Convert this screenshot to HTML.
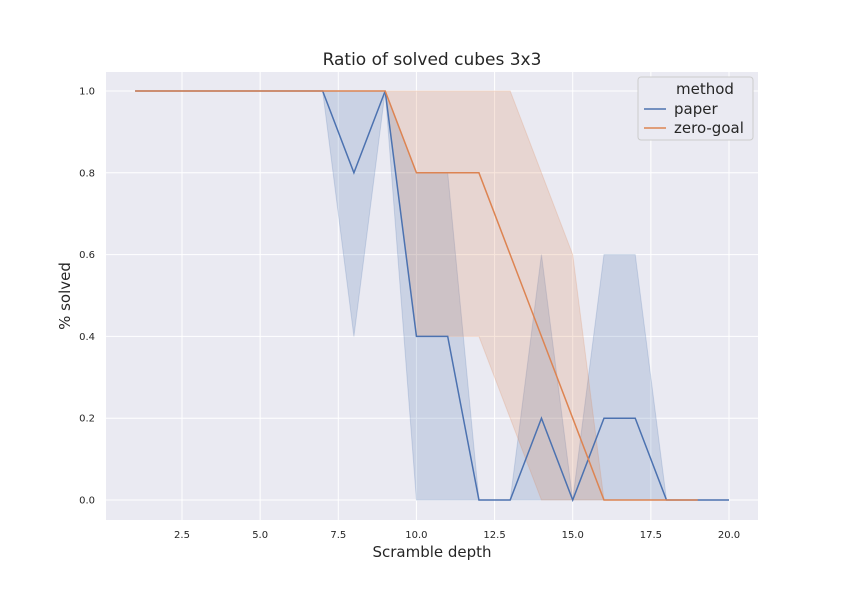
<!DOCTYPE html>
<html><head><meta charset="utf-8"><style>
body{margin:0;background:#fff;}
svg text{font-family:"DejaVu Sans","Liberation Sans",sans-serif;}
</style></head><body>
<svg id="chart" width="842" height="595" xmlns="http://www.w3.org/2000/svg"></svg>
<script>
const xs=[1,2,3,4,5,6,7,8,9,10,11,12,13,14,15,16,17,18,19,20];
const paperMean=[1,1,1,1,1,1,1,0.8,1,0.4,0.4,0,0,0.2,0,0.2,0.2,0,0,0];
const paperLow=[1,1,1,1,1,1,1,0.4,1,0,0,0,0,0,0,0,0,0,0,0];
const paperHigh=[1,1,1,1,1,1,1,1,1,0.8,0.8,0,0,0.6,0,0.6,0.6,0,0,0];
const zgX=[1,2,3,4,5,6,7,8,9,10,11,12,13,14,15,16,17,18,19];
const zgMean=[1,1,1,1,1,1,1,1,1,0.8,0.8,0.8,0.6,0.4,0.2,0,0,0,0];
const zgLow=[1,1,1,1,1,1,1,1,1,0.4,0.4,0.4,0.2,0,0,0,0,0,0];
const zgHigh=[1,1,1,1,1,1,1,1,1,1,1,1,1,0.8,0.6,0,0,0,0];
const xTicks=[2.5,5.0,7.5,10.0,12.5,15.0,17.5,20.0];
const yTicks=[0.0,0.2,0.4,0.6,0.8,1.0];
const svg=document.getElementById('chart');
const NS='http://www.w3.org/2000/svg';
const L=106,R=758,T=72,B=520;
const X=v=>182+(v-2.5)*31.257;
const Y=v=>500-v*409;
function mk(tag,attrs,parent){const e=document.createElementNS(NS,tag);for(const k in attrs)e.setAttribute(k,attrs[k]);(parent||svg).appendChild(e);return e;}
const bg=mk('rect',{x:L,y:T,width:R-L,height:B-T,fill:'#eaeaf2'});


xTicks.forEach(t=>{
  const l=mk('line',{x1:X(t),x2:X(t),y1:T,y2:B,stroke:'#fff','stroke-width':1});
  
  
  const tx=mk('text',{x:X(t),y:538,'font-size':10,fill:'#262626','text-anchor':'middle'});
  tx.textContent=t.toFixed(1);
  
  
});
yTicks.forEach(t=>{
  const l=mk('line',{x1:L,x2:R,y1:Y(t),y2:Y(t),stroke:'#fff','stroke-width':1});
  
  
  const tx=mk('text',{x:95,y:Y(t)+3.5,'font-size':10,fill:'#262626','text-anchor':'end'});
  tx.textContent=t.toFixed(1);
  
  
});
function band(xa,lo,hi,color,name){
  let d='M'+xa.map((x,i)=>X(x)+','+Y(hi[i])).join('L');
  for(let i=xa.length-1;i>=0;i--)d+='L'+X(xa[i])+','+Y(lo[i]);
  const p=mk('path',{d:d+'Z',fill:color,'fill-opacity':0.2,stroke:color,'stroke-opacity':0.2});
  
  
}
function line(xa,ys,color,name){
  const p=mk('path',{d:'M'+xa.map((x,i)=>X(x)+','+Y(ys[i])).join('L'),fill:'none',stroke:color,'stroke-width':1.5});
  
  
}
band(xs,paperLow,paperHigh,'#4c72b0','paper-ci-band');
band(zgX,zgLow,zgHigh,'#dd8452','zero-goal-ci-band');
line(xs,paperMean,'#4c72b0','paper-line');
line(zgX,zgMean,'#dd8452','zero-goal-line');
function txt(s,attrs,name){const t=mk('text',attrs);t.textContent=s;return t;}
txt('Ratio of solved cubes 3x3',{x:432,y:65,'font-size':17,fill:'#262626','text-anchor':'middle'},'chart-title');
txt('Scramble depth',{x:432,y:557,'font-size':15,fill:'#262626','text-anchor':'middle'},'x-axis-title');
txt('% solved',{x:70,y:296,'font-size':15,fill:'#262626','text-anchor':'middle',transform:'rotate(-90 70 296)'},'y-axis-title');
const g=mk('g',{});


mk('rect',{x:638,y:77,width:115,height:63,fill:'#eaeaf2',stroke:'#cccccc','stroke-width':1,rx:3},g);
const lt=mk('text',{x:705,y:94,'font-size':15,fill:'#262626','text-anchor':'middle'},g);lt.textContent='method';
mk('line',{x1:644,x2:666,y1:109,y2:109,stroke:'#4c72b0','stroke-width':1.5},g);
const t1=mk('text',{x:674,y:114,'font-size':15,fill:'#262626'},g);t1.textContent='paper';


mk('line',{x1:644,x2:666,y1:128,y2:128,stroke:'#dd8452','stroke-width':1.5},g);
const t2=mk('text',{x:674,y:133,'font-size':15,fill:'#262626'},g);t2.textContent='zero-goal';


</script>
</body></html>
